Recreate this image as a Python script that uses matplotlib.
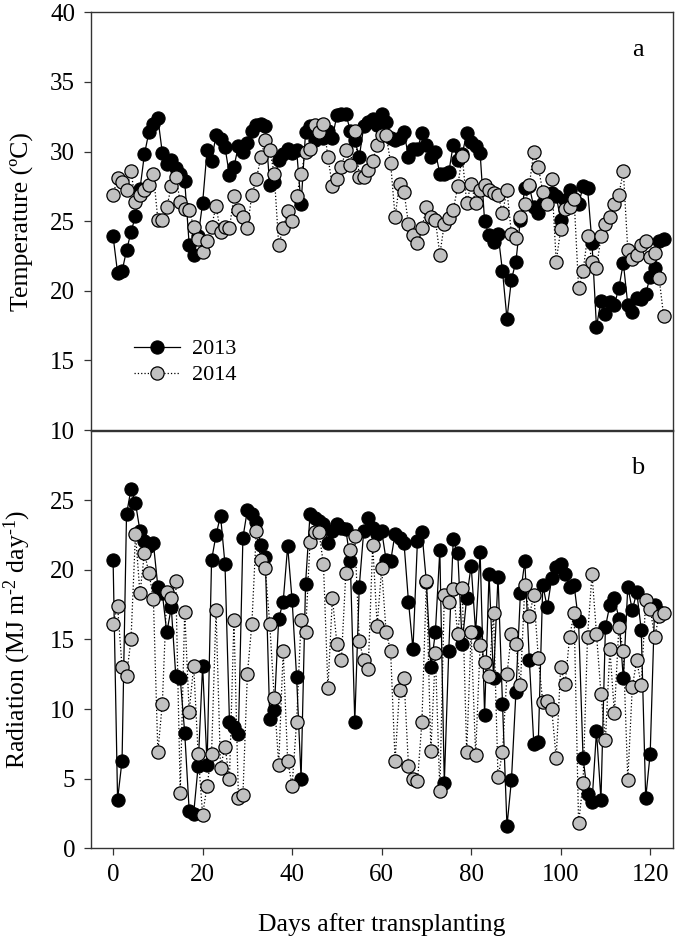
import matplotlib
matplotlib.use("Agg")
import matplotlib.pyplot as plt
import numpy as np

plt.rcParams['font.family'] = ['Liberation Serif', 'DejaVu Serif']
plt.rcParams['mathtext.fontset'] = 'custom'
plt.rcParams['mathtext.rm'] = 'Liberation Serif'
plt.rcParams['mathtext.it'] = 'Liberation Serif:italic'

# mean daily temperature (C)
temp_2013 = [23.9, 21.3, 21.4, 22.9, 24.2, 25.4, 27.3, 29.8, 31.4, 32.0,
             32.4, 29.9, 29.1, 29.4, 28.8, 28.4, 27.9, 23.3, 22.6, 23.9,
             26.3, 30.1, 29.3, 31.2, 30.9, 30.3, 28.3, 28.9, 30.4, 30.0,
             30.6, 31.5, 31.9, 32.0, 31.8, 27.6, 27.8, 29.4, 29.8, 30.2,
             29.9, 30.1, 26.2, 31.4, 31.8, 30.8, 31.2, 31.0, 31.5, 31.0,
             32.6, 32.7, 32.7, 31.5, 30.8, 29.6, 31.8, 32.1, 32.3, 31.9,
             32.7, 32.1, 31.0, 30.8, 31.0, 31.4, 29.6, 30.2, 30.2, 31.3,
             30.5, 29.6, 30.0, 28.4, 28.4, 28.5, 30.5, 29.4, 29.8, 31.3,
             30.7, 30.4, 29.9, 25.0, 24.0, 23.5, 24.1, 21.4, 18.0, 20.8,
             22.1, 25.1, 27.4, 27.5, 26.0, 25.6, 26.3, 26.7, 27.0, 26.8,
             25.1, 26.5, 27.2, 26.6, 26.2, 27.5, 27.4, 23.4, 17.4, 19.3,
             18.3, 19.2, 19.0, 20.2, 22.0, 19.0, 18.5, 19.5, 19.4, 19.8,
             21.0, 21.6, 23.6, 23.7]
temp_2014 = [26.9, 28.1, 27.8, 27.2, 28.6, 26.4, 26.9, 27.2, 27.6, 28.4,
             25.1, 25.1, 26.0, 27.5, 28.2, 26.4, 25.9, 25.8, 24.6, 23.7,
             22.8, 23.6, 24.6, 26.1, 24.2, 24.6, 24.5, 26.8, 25.8, 25.3,
             24.5, 26.9, 28.0, 29.6, 30.8, 30.1, 28.4, 23.3, 24.5, 25.7,
             25.0, 26.8, 28.4, 30.0, 30.2, 31.9, 31.4, 32.0, 29.6, 27.5,
             28.0, 28.9, 30.1, 29.0, 31.5, 28.2, 28.2, 28.7, 29.3, 30.5,
             31.2, 31.2, 29.2, 25.3, 27.7, 27.1, 24.8, 24.0, 23.4, 24.5,
             26.0, 25.3, 25.1, 22.6, 24.8, 25.2, 25.8, 27.5, 29.7, 26.3,
             27.7, 26.3, 27.2, 27.6, 27.2, 27.0, 26.9, 25.6, 27.2, 24.1,
             23.8, 25.3, 26.2, 27.6, 30.0, 28.9, 27.1, 26.2, 28.0, 22.1,
             24.4, 25.9, 26.0, 26.6, 20.2, 21.4, 23.9, 22.1, 21.6, 23.9,
             24.8, 25.3, 26.2, 26.9, 28.6, 22.9, 22.3, 22.6, 23.3, 23.6,
             22.4, 22.7, 20.9, 18.2]

# daily radiation (MJ m-2 day-1)
rad_2013 = [20.7, 3.5, 6.3, 24.0, 25.8, 24.8, 22.8, 22.1, 21.7, 21.9,
            18.8, 18.3, 15.5, 17.3, 12.4, 12.2, 8.3, 2.7, 2.5, 5.9,
            13.1, 6.0, 20.7, 22.5, 23.9, 20.4, 9.1, 8.7, 8.2, 22.3,
            24.3, 24.0, 23.4, 21.8, 20.9, 9.3, 9.9, 16.5, 17.7, 21.7,
            17.8, 12.3, 5.0, 19.0, 24.0, 23.7, 23.5, 23.3, 21.9, 22.8,
            23.3, 23.0, 22.9, 20.6, 9.1, 18.8, 22.8, 23.7, 23.0, 22.6,
            22.8, 20.7, 20.6, 22.6, 22.3, 21.9, 17.7, 14.3, 22.1, 22.7,
            19.1, 13.0, 15.5, 21.4, 4.7, 14.2, 22.2, 21.2, 14.7, 18.0,
            20.3, 15.5, 21.3, 9.6, 19.7, 12.2, 19.5, 10.4, 1.6, 4.9,
            11.2, 18.3, 20.6, 13.5, 7.5, 7.6, 18.9, 17.3, 19.4, 20.2,
            20.4, 19.7, 18.8, 18.9, 16.3, 6.5, 3.9, 3.3, 8.4, 3.5,
            15.9, 17.5, 18.0, 16.5, 12.2, 18.8, 17.1, 18.4, 15.7, 3.6,
            6.8, 17.5, 17.0]
rad_2014 = [16.1, 17.4, 13.0, 12.4, 15.0, 22.6, 18.3, 21.2, 19.8, 17.9,
            6.9, 10.4, 18.4, 18.0, 19.2, 4.0, 17.0, 9.8, 13.1, 6.8,
            2.4, 4.5, 6.8, 17.1, 5.8, 7.3, 5.0, 16.4, 3.6, 3.8,
            12.5, 16.1, 22.8, 20.7, 20.1, 16.1, 10.8, 6.0, 14.2, 6.3,
            4.5, 9.1, 16.4, 15.5, 22.0, 22.7, 22.7, 20.4, 11.5, 18.0,
            14.7, 13.5, 19.8, 21.4, 22.4, 14.9, 13.5, 12.9, 21.8, 16.0,
            20.1, 15.5, 14.2, 6.3, 11.4, 12.2, 5.9, 5.0, 4.8, 9.1,
            19.2, 7.0, 14.0, 4.1, 18.2, 17.7, 18.6, 15.4, 18.7, 6.9,
            15.5, 6.7, 14.6, 13.4, 12.4, 16.9, 5.1, 6.9, 12.5, 15.4,
            14.7, 11.7, 18.9, 16.7, 18.2, 13.7, 10.5, 10.6, 10.0, 6.5,
            13.0, 11.8, 15.2, 16.9, 1.8, 4.7, 15.2, 19.7, 15.4, 11.1,
            7.8, 14.3, 9.7, 15.9, 14.2, 4.9, 11.6, 13.5, 11.7, 17.8,
            17.2, 15.2, 16.7, 16.9]

fig = plt.figure(figsize=(6.75, 9.43), dpi=100)
ax1 = fig.add_axes([0.1344, 0.544, 0.862, 0.443])
ax2 = fig.add_axes([0.1344, 0.1004, 0.862, 0.443])

black = dict(color='black', lw=0.9, ls='-', marker='o', ms=9.5,
             mfc='black', mec='black', mew=0.8)
grey = dict(color='black', lw=0.9, ls=':', marker='o', ms=9.5,
            mfc='#c0c0c0', mec='black', mew=0.9)

ax1.plot(np.arange(len(temp_2013)), temp_2013, label='2013', **black)
ax1.plot(np.arange(len(temp_2014)), temp_2014, label='2014', **grey)
ax2.plot(np.arange(len(rad_2013)), rad_2013, **black)
ax2.plot(np.arange(len(rad_2014)), rad_2014, **grey)

for ax in (ax1, ax2):
    ax.set_xlim(-5, 125)
    for s in ax.spines.values():
        s.set_color('#333333')
        s.set_linewidth(1.0)
    ax.tick_params(direction='out', length=5.3, width=0.9, color='#333333',
                   labelsize=18)
    ax.tick_params(axis='y', pad=6)
    ax.tick_params(axis='x', pad=6)

ax1.set_ylim(10, 40)
ax1.set_yticks(np.arange(10, 41, 5))
ax1.set_xticks([])
ax1.set_ylabel('Temperature (\u00baC)', fontsize=18.5)
ax1.yaxis.set_label_coords(-0.1, 0.5)
ax1.text(0.94, 0.91, 'a', transform=ax1.transAxes, fontsize=19,
         ha='center', va='center')
ax1.legend(loc='upper left', bbox_to_anchor=(0.055, 0.245), frameon=False,
           fontsize=16, handlelength=2.1, handletextpad=0.5,
           labelspacing=0.25, borderpad=0)

ax2.set_ylim(0, 30)
ax2.set_yticks(np.arange(0, 26, 5))
ax2.set_xticks(np.arange(0, 121, 20))
ax2.set_ylabel(r'Radiation (MJ m$^{\text{-2}}$ day$^{\text{-1}}$)', fontsize=18.5)
ax2.yaxis.set_label_coords(-0.1, 0.5)
ax2.set_xlabel('Days after transplanting', fontsize=18.5)
ax2.xaxis.set_label_coords(0.5, -0.155)
ax2.text(0.94, 0.91, 'b', transform=ax2.transAxes, fontsize=19,
         ha='center', va='center')

fig.savefig('out.png', dpi=100)
